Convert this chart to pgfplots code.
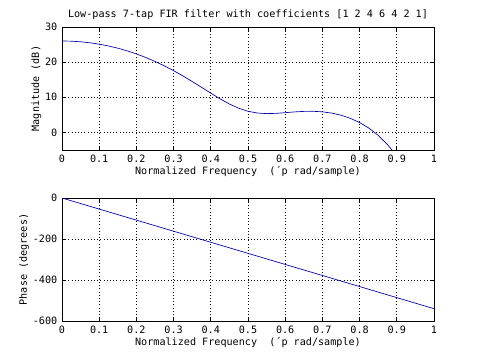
\documentclass[border=0pt]{standalone}
\usepackage{pgfplots}
\pgfplotsset{compat=1.18}
\usepackage{fontspec}
\setmainfont{DejaVu Sans Mono}
\definecolor{mline}{RGB}{0,0,160}
\begin{document}
\begin{tikzpicture}[font=\fontsize{7.6}{9}\selectfont]
\useasboundingbox (0,0) rectangle (360pt,270.75pt);
\pgfplotsset{
  every axis/.append style={
    scale only axis, width=279pt, height=92.25pt,
    xmin=0, xmax=1,
    xtick={0,0.1,0.2,0.3,0.4,0.5,0.6,0.7,0.8,0.9,1},
    xticklabels={0,0.1,0.2,0.3,0.4,0.5,0.6,0.7,0.8,0.9,1},
    tick align=inside, tick pos=both,
    major tick length=3pt,
    grid=major,
    major grid style={dotted, black, line width=0.5pt},
    axis line style={black, line width=0.6pt},
    every tick/.style={black, line width=0.5pt},
    xlabel={Normalized Frequency~~(´p rad/sample)},
    xlabel style={yshift=4pt},
    ylabel style={yshift=-4pt},
    tick label style={font=\fontsize{7.6}{9}\selectfont},
    label style={font=\fontsize{7.6}{9}\selectfont},
    title style={font=\fontsize{7.6}{9}\selectfont, yshift=-4pt},
  }
}
\begin{axis}[at={(46.5pt,158.25pt)}, anchor=south west,
  ymin=-5, ymax=30, ytick={0,10,20,30}, yticklabels={0,10,20,30},
  ylabel={Magnitude (dB)},
  title={Low-pass 7-tap FIR filter with coefficients [1 2 4 6 4 2 1]}]
\addplot[mline, line width=0.5pt, no marks] coordinates {
(0,26.0206) (0.025,25.9643) (0.05,25.7953) (0.075,25.5126) (0.1,25.1151)
(0.125,24.6013) (0.15,23.9688) (0.175,23.2154) (0.2,22.3389) (0.225,21.3370)
(0.25,20.2082) (0.275,18.9531) (0.3,17.5751) (0.325,16.0831) (0.35,14.4943)
(0.375,12.8399) (0.4,11.1694) (0.425,9.5559) (0.45,8.0942) (0.475,6.8880)
(0.5,6.0206) (0.525,5.5222) (0.55,5.3542) (0.575,5.4244) (0.6,5.6198)
(0.625,5.8355) (0.65,5.9871) (0.675,6.0113) (0.7,5.8617) (0.725,5.5014)
(0.75,4.8971) (0.775,4.0141) (0.8,2.8095) (0.825,1.2266) (0.85,-0.8180)
(0.875,-3.4525) (0.8875,-5.0542) (0.9,-6.8964)
};
\end{axis}
\begin{axis}[at={(46.5pt,30pt)}, anchor=south west,
  ymin=-600, ymax=0, ytick={-600,-400,-200,0}, yticklabels={-600,-400,-200,0},
  ylabel={Phase (degrees)}]
\addplot[mline, line width=0.5pt, no marks] coordinates {(0,0) (0.5,-270) (1,-540)};
\end{axis}
\end{tikzpicture}
\end{document}
